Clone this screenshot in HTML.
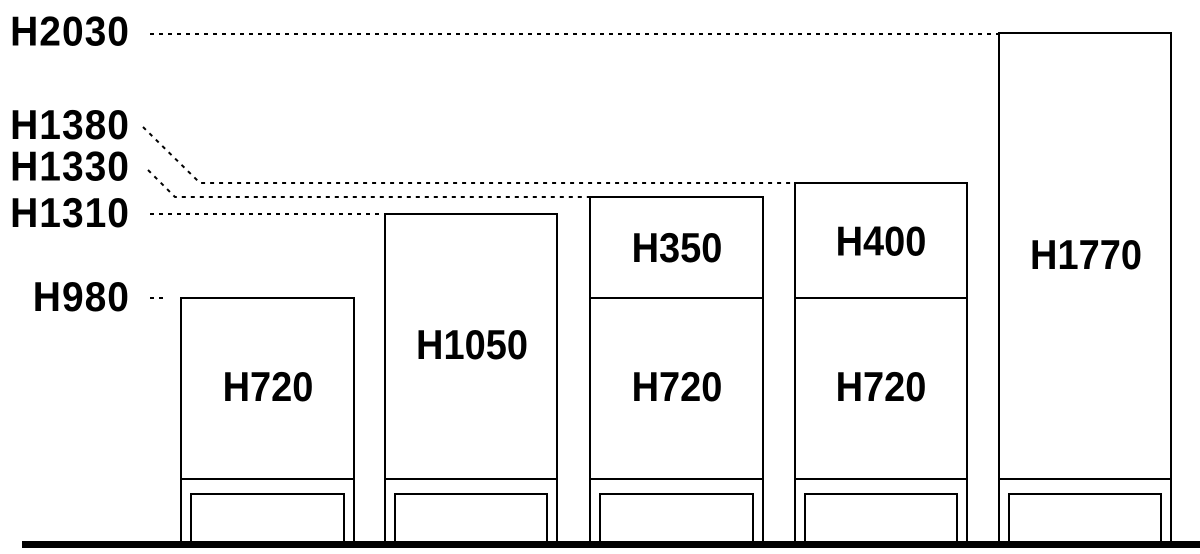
<!DOCTYPE html>
<html><head><style>
body{margin:0;background:#fff}
svg{display:block}
text{font-family:"Liberation Sans",sans-serif;font-weight:bold;fill:#000}
</style></head><body>
<svg width="1200" height="554" viewBox="0 0 1200 554">
<g stroke="#000" stroke-width="2" fill="none">
<rect x="181" y="298" width="173" height="246"/>
<rect x="385" y="214" width="172" height="330"/>
<rect x="590" y="197" width="173" height="347"/>
<rect x="795" y="183" width="172" height="361"/>
<rect x="999" y="33" width="172" height="511"/>
<line x1="590" y1="298" x2="763" y2="298"/>
<line x1="795" y1="298" x2="967" y2="298"/>
<g>
<line x1="181" y1="479" x2="354" y2="479"/><path d="M191 544V494H344V544"/>
<line x1="385" y1="479" x2="557" y2="479"/><path d="M395 544V494H547V544"/>
<line x1="590" y1="479" x2="763" y2="479"/><path d="M600 544V494H753V544"/>
<line x1="795" y1="479" x2="967" y2="479"/><path d="M805 544V494H957V544"/>
<line x1="999" y1="479" x2="1171" y2="479"/><path d="M1009 544V494H1161V544"/>
</g>
</g>
<g stroke="#000" stroke-width="2" fill="none" stroke-dasharray="4 5">
<line x1="150" y1="34" x2="999" y2="34"/>
<path d="M143 127L200 183H795"/>
<path d="M148 170L175 197H590"/>
<line x1="150" y1="214" x2="385" y2="214"/>
<line x1="150" y1="298" x2="166" y2="298"/>
</g>
<rect x="22" y="541" width="1178" height="7" fill="#000"/>
<g font-size="39" text-anchor="end" letter-spacing="1">
<text x="130" y="46" transform="translate(0,-4) scale(1,1.08)">H2030</text>
<text x="130" y="139" transform="translate(0,-11) scale(1,1.08)">H1380</text>
<text x="130" y="180" transform="translate(0,-14) scale(1,1.08)">H1330</text>
<text x="130" y="227" transform="translate(0,-18) scale(1,1.08)">H1310</text>
<text x="130" y="311" transform="translate(0,-25) scale(1,1.08)">H980</text>
</g>
<g font-size="38" text-anchor="middle">
<text x="268" y="401" transform="translate(0,-40) scale(1,1.1)">H720</text>
<text x="472" y="359" transform="translate(0,-36) scale(1,1.1)">H1050</text>
<text x="677" y="262" transform="translate(0,-26) scale(1,1.1)">H350</text>
<text x="677" y="401" transform="translate(0,-40) scale(1,1.1)">H720</text>
<text x="881" y="255" transform="translate(0,-25) scale(1,1.1)">H400</text>
<text x="881" y="401" transform="translate(0,-40) scale(1,1.1)">H720</text>
<text x="1086" y="269" transform="translate(0,-27) scale(1,1.1)">H1770</text>
</g>
</svg>
</body></html>
